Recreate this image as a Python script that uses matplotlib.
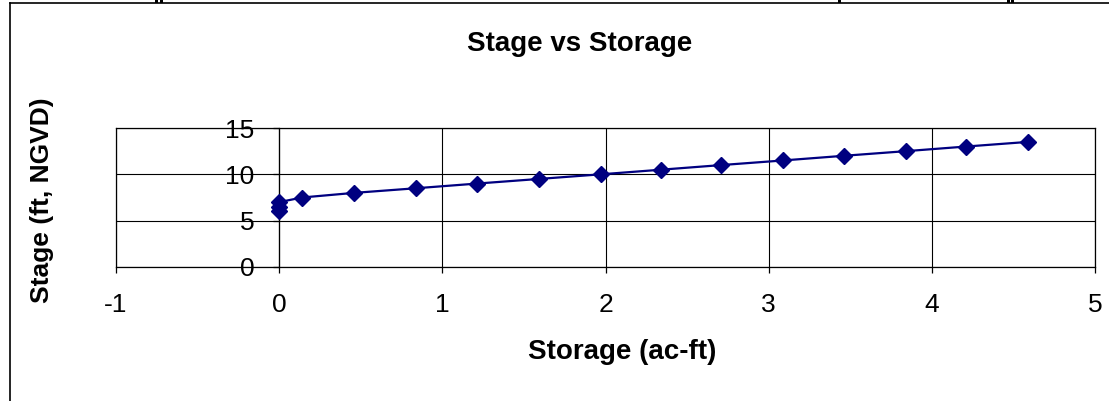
import matplotlib
matplotlib.use("Agg")
import matplotlib.pyplot as plt
from matplotlib.patches import Rectangle

plt.rcParams['font.family'] = ['Liberation Sans', 'DejaVu Sans']
plt.rcParams['axes.unicode_minus'] = False

# stage-storage table
storage = [0, 0, 0, 0.14, 0.46, 0.84, 1.21, 1.59, 1.97, 2.34, 2.71, 3.09, 3.46, 3.84, 4.21, 4.59]
stage = [6.0, 6.5, 7.0, 7.5, 8.0, 8.5, 9.0, 9.5, 10.0, 10.5, 11.0, 11.5, 12.0, 12.5, 13.0, 13.5]

x_ticks = [-1, 0, 1, 2, 3, 4, 5]
y_ticks = [0, 5, 10, 15]

W, H = 1109, 401
fig = plt.figure(figsize=(W / 100, H / 100), dpi=100)
ax = fig.add_axes([116 / W, 1 - 267 / H, (1095 - 116) / W, (267 - 128) / H])

ax.plot(storage, stage, color='#000080', lw=1.6, marker='D', markersize=8.5,
        markerfacecolor='#000080', markeredgecolor='#000080', zorder=3)

ax.set_xlim(-1, 5)
ax.set_ylim(0, 15)
ax.set_xticks(x_ticks)
ax.set_yticks(y_ticks)
ax.grid(True, color='black', lw=0.8)

# y axis crosses at x = 0 like the spreadsheet chart
ax.spines['left'].set_position(('data', 0))
for s in ax.spines.values():
    s.set_color('black')
    s.set_linewidth(0.9)
ax.axvline(-1, color='black', lw=0.9, clip_on=False)

ax.tick_params(axis='x', direction='out', length=4, width=0.9, pad=15, labelsize=19)
ax.tick_params(axis='y', direction='out', length=4, width=0.9, pad=14, labelsize=19)

fig.text(580 / W, 1 - 44 / H, 'Stage vs Storage', ha='center', va='center',
         fontsize=20, fontweight='bold')
fig.text(622 / W, 1 - 352 / H, 'Storage (ac-ft)', ha='center', va='center',
         fontsize=20, fontweight='bold')
fig.text(42 / W, 1 - 200 / H, 'Stage (ft, NGVD)', ha='center', va='center',
         fontsize=19, fontweight='bold', rotation=90)

# chart area border (cut off at right and bottom)
fig.add_artist(plt.Line2D([10 / W, 1], [1 - 3 / H, 1 - 3 / H], color='black', lw=1.2))
fig.add_artist(plt.Line2D([10 / W, 10 / W], [0, 1 - 3 / H], color='black', lw=1.2))

# bits of the cells above the chart
for x0, w in [(155, 3), (160, 3), (838, 3), (1007, 3), (1011, 3)]:
    fig.add_artist(Rectangle((x0 / W, 1 - 3 / H), w / W, 3 / H,
                             color='black', lw=0, transform=fig.transFigure))

fig.savefig('out.png', dpi=100)
